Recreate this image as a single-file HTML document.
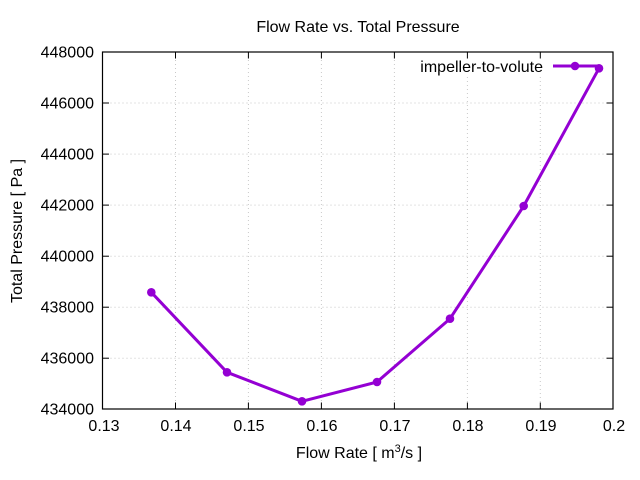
<!DOCTYPE html>
<html><head><meta charset="utf-8"><style>
html,body{margin:0;padding:0;background:#fff;}
svg{display:block;font-family:"Liberation Sans",Arial,sans-serif;}
</style></head><body>
<svg width="640" height="480" viewBox="0 0 640 480" xmlns="http://www.w3.org/2000/svg">
<rect width="640" height="480" fill="#fff"/>
<!-- grid -->
<g stroke="#c8c8c8" stroke-width="1" stroke-dasharray="1,3" fill="none">
<line x1="175.5" y1="52" x2="175.5" y2="409"/>
<line x1="248.4" y1="52" x2="248.4" y2="409"/>
<line x1="321.4" y1="52" x2="321.4" y2="409"/>
<line x1="394.4" y1="52" x2="394.4" y2="409"/>
<line x1="467.4" y1="77" x2="467.4" y2="409"/>
<line x1="540.3" y1="77" x2="540.3" y2="409"/>
<line x1="102.5" y1="103" x2="613" y2="103"/>
<line x1="102.5" y1="154.1" x2="613" y2="154.1"/>
<line x1="102.5" y1="205.1" x2="613" y2="205.1"/>
<line x1="102.5" y1="256.2" x2="613" y2="256.2"/>
<line x1="102.5" y1="307.2" x2="613" y2="307.2"/>
<line x1="102.5" y1="358.2" x2="613" y2="358.2"/>
</g>
<!-- ticks -->
<g stroke="#000" stroke-width="1">
<line x1="175.5" y1="409" x2="175.5" y2="402.5"/><line x1="175.5" y1="52" x2="175.5" y2="58.5"/>
<line x1="248.4" y1="409" x2="248.4" y2="402.5"/><line x1="248.4" y1="52" x2="248.4" y2="58.5"/>
<line x1="321.4" y1="409" x2="321.4" y2="402.5"/><line x1="321.4" y1="52" x2="321.4" y2="58.5"/>
<line x1="394.4" y1="409" x2="394.4" y2="402.5"/><line x1="394.4" y1="52" x2="394.4" y2="58.5"/>
<line x1="467.4" y1="409" x2="467.4" y2="402.5"/><line x1="467.4" y1="52" x2="467.4" y2="58.5"/>
<line x1="540.3" y1="409" x2="540.3" y2="402.5"/><line x1="540.3" y1="52" x2="540.3" y2="58.5"/>
<line x1="102.5" y1="103" x2="109" y2="103"/><line x1="613" y1="103" x2="606.5" y2="103"/>
<line x1="102.5" y1="154.1" x2="109" y2="154.1"/><line x1="613" y1="154.1" x2="606.5" y2="154.1"/>
<line x1="102.5" y1="205.1" x2="109" y2="205.1"/><line x1="613" y1="205.1" x2="606.5" y2="205.1"/>
<line x1="102.5" y1="256.2" x2="109" y2="256.2"/><line x1="613" y1="256.2" x2="606.5" y2="256.2"/>
<line x1="102.5" y1="307.2" x2="109" y2="307.2"/><line x1="613" y1="307.2" x2="606.5" y2="307.2"/>
<line x1="102.5" y1="358.2" x2="109" y2="358.2"/><line x1="613" y1="358.2" x2="606.5" y2="358.2"/>
</g>
<rect x="102.5" y="52" width="510.5" height="357" fill="none" stroke="#000" stroke-width="1.2"/>
<!-- y tick labels -->
<g font-size="16" fill="#000" text-anchor="end">
<text x="94" y="57.5">448000</text>
<text x="94" y="108.5">446000</text>
<text x="94" y="159.6">444000</text>
<text x="94" y="210.6">442000</text>
<text x="94" y="261.7">440000</text>
<text x="94" y="312.7">438000</text>
<text x="94" y="363.7">436000</text>
<text x="94" y="414.5">434000</text>
</g>
<!-- x tick labels -->
<g font-size="16" fill="#000" text-anchor="middle">
<text x="104" y="431">0.13</text>
<text x="176" y="431">0.14</text>
<text x="249" y="431">0.15</text>
<text x="322" y="431">0.16</text>
<text x="395" y="431">0.17</text>
<text x="468" y="431">0.18</text>
<text x="541" y="431">0.19</text>
<text x="614" y="431">0.2</text>
</g>
<text x="358" y="32" font-size="16" text-anchor="middle">Flow Rate vs. Total Pressure</text>
<text x="359" y="458" font-size="16" text-anchor="middle">Flow Rate [ m<tspan font-size="11" dy="-6">3</tspan><tspan dy="6">/s ]</tspan></text>
<text transform="translate(22,231) rotate(-90)" font-size="16" text-anchor="middle">Total Pressure [ Pa ]</text>
<!-- legend -->
<text x="543" y="72" font-size="16" text-anchor="end">impeller-to-volute</text>
<line x1="553" y1="66" x2="598" y2="66" stroke="#9400d3" stroke-width="3"/>
<circle cx="575" cy="66" r="4.3" fill="#9400d3"/>
<!-- series -->
<polyline fill="none" stroke="#9400d3" stroke-width="3" stroke-linejoin="round"
 points="151.3,292.3 227,372.3 302,401.3 377,382 450,318.7 523.7,206 599,68.3"/>
<g fill="#9400d3">
<circle cx="151.3" cy="292.3" r="4.3"/>
<circle cx="227" cy="372.3" r="4.3"/>
<circle cx="302" cy="401.3" r="4.3"/>
<circle cx="377" cy="382" r="4.3"/>
<circle cx="450" cy="318.7" r="4.3"/>
<circle cx="523.7" cy="206" r="4.3"/>
<circle cx="599" cy="68.3" r="4.3"/>
</g>
</svg>
</body></html>
